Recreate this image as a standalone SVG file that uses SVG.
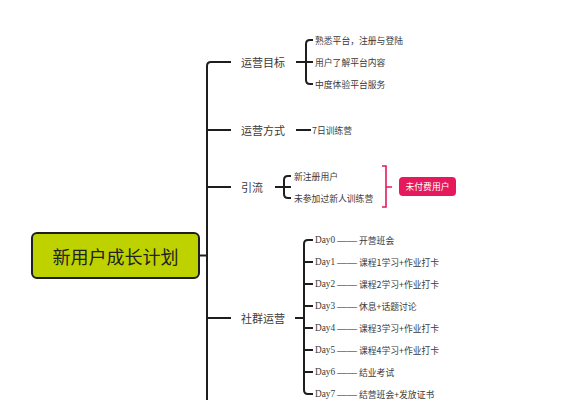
<svg xmlns="http://www.w3.org/2000/svg" width="588" height="400" viewBox="0 0 588 400">
<style>
.ln{fill:none;stroke:#1e1e1e;stroke-width:2;stroke-linecap:butt}
.pk{fill:none;stroke:#e5195b;stroke-width:1.6}
.cjk{font-family:"Noto Sans CJK SC","Liberation Sans",sans-serif}
.lbl{font-size:11px;fill:#3a3a3a}
.sub{font-size:8.8px;fill:#3a3a3a}
.day{font-family:"Liberation Serif","Noto Sans CJK SC",serif;font-size:9.3px;fill:#3a3a3a}
.dash{font-family:"Liberation Serif",serif;font-size:10px;fill:#222}
text{dominant-baseline:central}
</style>
<rect width="588" height="400" fill="#ffffff"/>
<g id="connectors">
<path class="ln" d="M199,255.5 H207"/>
<path class="ln" d="M231,62 H211 Q207,62 207,66 V400"/>
<path class="ln" d="M207,130 H231"/>
<path class="ln" d="M207,187 H231"/>
<path class="ln" d="M207,318 H231"/>
<path class="ln" d="M296,62 H313"/>
<path class="ln" d="M313,40 H310 Q306,40 306,44 V80 Q306,84 310,84 H313"/>
<path class="ln" d="M296,130 H311"/>
<path class="ln" d="M275,187 H291"/>
<path class="ln" d="M291,176 H288 Q284,176 284,180 V194 Q284,198 288,198 H291"/>
<path class="ln" d="M295,318 H304"/>
<path class="ln" d="M313,240 H308 Q304,240 304,244 V390 Q304,394 308,394 H313"/>
<path class="ln" d="M304,262 H313 M304,284 H313 M304,306 H313 M304,328 H313 M304,350 H313 M304,372 H313"/>
<path class="pk" d="M382,166 H386 V207 H382 M386,187 H392"/>
</g>
<g id="root">
<rect x="32" y="233" width="167" height="45" rx="5" fill="#bed200" stroke="#1e1e1e" stroke-width="2"/>
<text class="cjk" x="115.5" y="256" font-size="18" fill="#222" text-anchor="middle">新用户成长计划</text>
</g>
<g id="n-mubiao"><text class="cjk lbl" x="241" y="62">运营目标</text></g>
<g id="n-mubiao-1"><text class="cjk sub" x="315" y="40">熟悉平台，注册与登陆</text></g>
<g id="n-mubiao-2"><text class="cjk sub" x="315" y="62">用户了解平台内容</text></g>
<g id="n-mubiao-3"><text class="cjk sub" x="315" y="84">中度体验平台服务</text></g>
<g id="n-fangshi"><text class="cjk lbl" x="241" y="130">运营方式</text></g>
<g id="n-fangshi-1"><text class="cjk sub" x="312" y="130">7日训练营</text></g>
<g id="n-yinliu"><text class="cjk lbl" x="241" y="187">引流</text></g>
<g id="n-yinliu-1"><text class="cjk sub" x="294" y="176">新注册用户</text></g>
<g id="n-yinliu-2"><text class="cjk sub" x="294" y="198">未参加过新人训练营</text></g>
<g id="n-unpaid">
<rect x="399" y="177" width="57" height="19" rx="4" fill="#e5195b"/>
<text class="cjk" x="427.5" y="186.5" font-size="8.8" fill="#ffffff" text-anchor="middle">未付费用户</text>
</g>
<g id="n-shequn"><text class="cjk lbl" x="241" y="318">社群运营</text></g>
<g id="n-day0"><text y="240"><tspan class="day" x="315">Day0</tspan><tspan class="dash" x="337">——</tspan><tspan class="cjk sub" x="359">开营班会</tspan></text></g>
<g id="n-day1"><text y="262"><tspan class="day" x="315">Day1</tspan><tspan class="dash" x="337">——</tspan><tspan class="cjk sub" x="359">课程1学习+作业打卡</tspan></text></g>
<g id="n-day2"><text y="284"><tspan class="day" x="315">Day2</tspan><tspan class="dash" x="337">——</tspan><tspan class="cjk sub" x="359">课程2学习+作业打卡</tspan></text></g>
<g id="n-day3"><text y="306"><tspan class="day" x="315">Day3</tspan><tspan class="dash" x="337">——</tspan><tspan class="cjk sub" x="359">休息+话题讨论</tspan></text></g>
<g id="n-day4"><text y="328"><tspan class="day" x="315">Day4</tspan><tspan class="dash" x="337">——</tspan><tspan class="cjk sub" x="359">课程3学习+作业打卡</tspan></text></g>
<g id="n-day5"><text y="350"><tspan class="day" x="315">Day5</tspan><tspan class="dash" x="337">——</tspan><tspan class="cjk sub" x="359">课程4学习+作业打卡</tspan></text></g>
<g id="n-day6"><text y="372"><tspan class="day" x="315">Day6</tspan><tspan class="dash" x="337">——</tspan><tspan class="cjk sub" x="359">结业考试</tspan></text></g>
<g id="n-day7"><text y="394"><tspan class="day" x="315">Day7</tspan><tspan class="dash" x="337">——</tspan><tspan class="cjk sub" x="359">结营班会+发放证书</tspan></text></g>
</svg>
